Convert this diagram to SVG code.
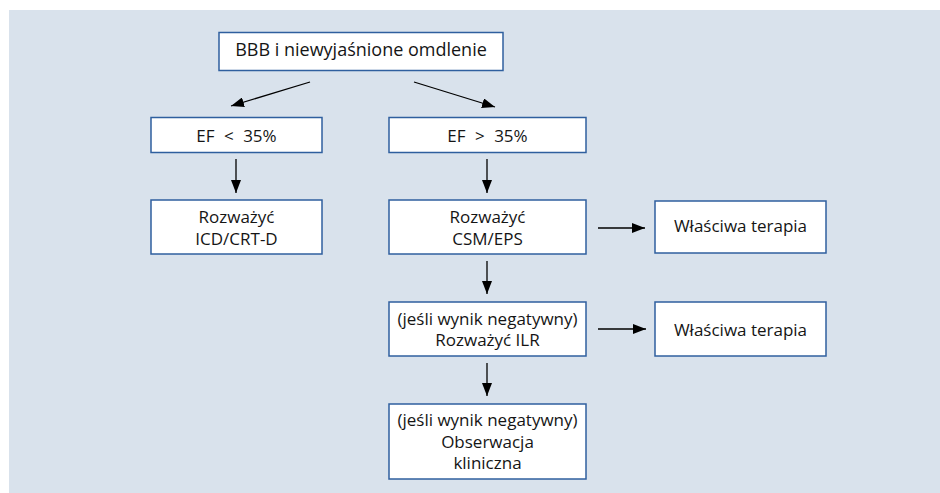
<svg xmlns="http://www.w3.org/2000/svg" width="940" height="493" viewBox="0 0 940 493">
<defs>
<marker id="ah" viewBox="0 0 13 10" refX="13" refY="5" markerWidth="13" markerHeight="10" markerUnits="userSpaceOnUse" orient="auto">
<path d="M0,0 L13,5 L0,10 z" fill="#000"/>
</marker>
<style>
.box{fill:#fff;stroke:#2f5f9e;stroke-width:1.5}
.t{font-family:"Open Sans","Noto Sans",sans-serif;font-size:17px;fill:#151515;text-anchor:middle}
.ef{word-spacing:5px}
.c{stroke:#000;stroke-width:1.3;fill:none;marker-end:url(#ah)}
</style>
</defs>
<rect width="940" height="493" fill="#fff"/>
<rect x="9" y="10" width="931" height="483" fill="#d9e2ec"/>
<g id="connectors">
<line class="c" x1="310" y1="82" x2="231" y2="106"/>
<line class="c" x1="414" y1="82" x2="495" y2="107"/>
<line class="c" x1="236" y1="159" x2="236" y2="193"/>
<line class="c" x1="487" y1="159" x2="487" y2="193"/>
<line class="c" x1="598" y1="228" x2="645" y2="228"/>
<line class="c" x1="487" y1="261" x2="487" y2="294"/>
<line class="c" x1="598" y1="329" x2="646" y2="329"/>
<line class="c" x1="487" y1="363" x2="487" y2="396"/>
</g>
<g id="n-start">
<rect class="box" x="219" y="32.5" width="284" height="38"/>
<text class="t" x="361" y="56" style="font-size:18px">BBB i niewyjaśnione omdlenie</text>
</g>
<g id="n-ef-low">
<rect class="box" x="151" y="117.5" width="171" height="35"/>
<text class="t ef" x="236.5" y="141.5">EF &lt; 35%</text>
</g>
<g id="n-ef-high">
<rect class="box" x="389" y="117.5" width="197" height="35"/>
<text class="t ef" x="487.5" y="141.5">EF &gt; 35%</text>
</g>
<g id="n-icd">
<rect class="box" x="151" y="200" width="171" height="54"/>
<text class="t" x="236.5" y="223">Rozważyć</text>
<text class="t" x="236.5" y="245">ICD/CRT-D</text>
</g>
<g id="n-csm">
<rect class="box" x="389" y="200" width="197" height="54"/>
<text class="t" x="487.5" y="223">Rozważyć</text>
<text class="t" x="487.5" y="245">CSM/EPS</text>
</g>
<g id="n-therapy1">
<rect class="box" x="655" y="201" width="171" height="52"/>
<text class="t" x="740.5" y="232">Właściwa terapia</text>
</g>
<g id="n-ilr">
<rect class="box" x="389" y="302" width="197" height="54"/>
<text class="t" x="487.5" y="325">(jeśli wynik negatywny)</text>
<text class="t" x="487.5" y="346">Rozważyć ILR</text>
</g>
<g id="n-therapy2">
<rect class="box" x="655" y="302" width="171" height="54"/>
<text class="t" x="740.5" y="336">Właściwa terapia</text>
</g>
<g id="n-obs">
<rect class="box" x="389" y="404" width="197" height="75"/>
<text class="t" x="487.5" y="426">(jeśli wynik negatywny)</text>
<text class="t" x="487.5" y="448">Obserwacja</text>
<text class="t" x="487.5" y="469">kliniczna</text>
</g>
</svg>
